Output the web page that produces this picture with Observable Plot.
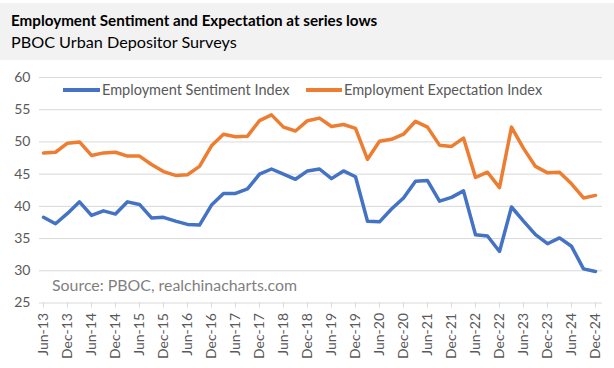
<!DOCTYPE html>
<html>
<head>
<meta charset="utf-8">
<script src="https://cdn.jsdelivr.net/npm/d3@7"></script>
<script src="https://cdn.jsdelivr.net/npm/@observablehq/plot@0.6"></script>
<style>
  html, body { margin: 0; padding: 0; background: #ffffff; }
  #page { position: relative; width: 614px; height: 368px; overflow: hidden; font-family: Lato, "Open Sans", sans-serif; }
  #hdr { position: absolute; left: 0; top: 3px; width: 614px; height: 57px; background: #f2f2f2; }
  #title { position: absolute; left: 11px; top: 10px; font-size: 15.2px; line-height: 20px; font-weight: 700; color: #000; white-space: nowrap; }
  #subtitle { position: absolute; left: 11px; top: 32px; font-size: 16.2px; line-height: 20px; color: #000; white-space: nowrap; }
  #chart { position: absolute; left: 0; top: 60px; }
  .leg { position: absolute; top: 80px; font-size: 14.5px; line-height: 20px; color: #595959; white-space: nowrap; }
  .sw { position: absolute; top: 88px; height: 4px; }
  #source { position: absolute; left: 52px; top: 275px; font-size: 15.9px; line-height: 20px; color: #7f7f7f; white-space: nowrap; }
</style>
</head>
<body>
<div id="page">
  <div id="hdr"></div>
  <div id="title"></div>
  <div id="subtitle"></div>
  <div id="chart"></div>
  <div class="sw" id="sw1" style="left:63px;width:37px;background:#4472c4"></div>
  <div class="leg" id="leg1" style="left:102px"></div>
  <div class="sw" id="sw2" style="left:306px;width:36px;background:#ed7d31"></div>
  <div class="leg" id="leg2" style="left:344px"></div>
  <div id="source"></div>
</div>
<script>
const titleText = "Employment Sentiment and Expectation at series lows";
const subtitleText = "PBOC Urban Depositor Surveys";
const sourceText = "Source: PBOC, realchinacharts.com";
const seriesNames = ["Employment Sentiment Index", "Employment Expectation Index"];
const seriesColors = ["#4472c4", "#ed7d31"];

const quarters = [
  "Jun-13","Sep-13","Dec-13",
  "Mar-14","Jun-14","Sep-14","Dec-14",
  "Mar-15","Jun-15","Sep-15","Dec-15",
  "Mar-16","Jun-16","Sep-16","Dec-16",
  "Mar-17","Jun-17","Sep-17","Dec-17",
  "Mar-18","Jun-18","Sep-18","Dec-18",
  "Mar-19","Jun-19","Sep-19","Dec-19",
  "Mar-20","Jun-20","Sep-20","Dec-20",
  "Mar-21","Jun-21","Sep-21","Dec-21",
  "Mar-22","Jun-22","Sep-22","Dec-22",
  "Mar-23","Jun-23","Sep-23","Dec-23",
  "Mar-24","Jun-24","Sep-24","Dec-24"
];

const xTickLabels = [
  "Jun-13","Dec-13","Jun-14","Dec-14","Jun-15","Dec-15","Jun-16","Dec-16",
  "Jun-17","Dec-17","Jun-18","Dec-18","Jun-19","Dec-19","Jun-20","Dec-20",
  "Jun-21","Dec-21","Jun-22","Dec-22","Jun-23","Dec-23","Jun-24","Dec-24"
];
const yTicks = [25, 30, 35, 40, 45, 50, 55, 60];

const sentiment = [
  38.3, 37.3, 38.9,
  40.7, 38.6, 39.3, 38.8,
  40.7, 40.3, 38.2, 38.3,
  37.7, 37.2, 37.1, 40.2,
  42.0, 42.0, 42.7, 45.0,
  45.8, 45.0, 44.2, 45.5,
  45.8, 44.3, 45.5, 44.6,
  37.7, 37.6, 39.6, 41.3,
  43.9, 44.0, 40.8, 41.4,
  42.4, 35.6, 35.4, 33.0,
  39.9, 37.7, 35.6, 34.2,
  35.1, 33.8, 30.3, 29.9
];
const expectation = [
  48.3, 48.4, 49.8,
  50.0, 47.9, 48.3, 48.4,
  47.8, 47.8, 46.5, 45.4,
  44.8, 44.9, 46.2, 49.4,
  51.2, 50.8, 50.9, 53.3,
  54.2, 52.3, 51.7, 53.3,
  53.7, 52.4, 52.7, 52.1,
  47.3, 50.1, 50.4, 51.2,
  53.2, 52.3, 49.5, 49.3,
  50.6, 44.5, 45.3, 42.9,
  52.3, 49.0, 46.2, 45.2,
  45.3, 43.5, 41.3, 41.7
];

document.getElementById("title").textContent = titleText;
document.getElementById("subtitle").textContent = subtitleText;
document.getElementById("source").textContent = sourceText;
document.getElementById("leg1").textContent = seriesNames[0];
document.getElementById("leg2").textContent = seriesNames[1];

const rows = quarters.map((q, i) => ({q, s: sentiment[i], e: expectation[i]}));

const chart = Plot.plot({
  width: 614,
  height: 308,
  marginTop: 17,
  marginBottom: 65.5,
  marginLeft: 39,
  marginRight: 12,
  x: {type: "point", domain: quarters, range: [39, 599], padding: 0},
  y: {domain: [25, 60]},
  style: {fontFamily: "Lato, 'Open Sans', sans-serif", fontSize: "14px", color: "#595959", background: "transparent"},
  marks: [
    Plot.ruleY(yTicks, {stroke: "#d9d9d9", strokeWidth: 1}),
    Plot.axisY({ticks: yTicks, tickSize: 0, tickPadding: 9, label: null, fill: "#595959", fontSize: 14}),
    Plot.axisX({ticks: xTickLabels, tickRotate: -90, tickSize: 5, tickPadding: 5, label: null, stroke: "#d9d9d9", fill: "#595959", fontSize: 14}),
    Plot.line(rows, {x: "q", y: "s", stroke: seriesColors[0], strokeWidth: 3.5, strokeLinejoin: "round"}),
    Plot.line(rows, {x: "q", y: "e", stroke: seriesColors[1], strokeWidth: 3.5, strokeLinejoin: "round"})
  ]
});
document.getElementById("chart").appendChild(chart);
</script>
</body>
</html>
